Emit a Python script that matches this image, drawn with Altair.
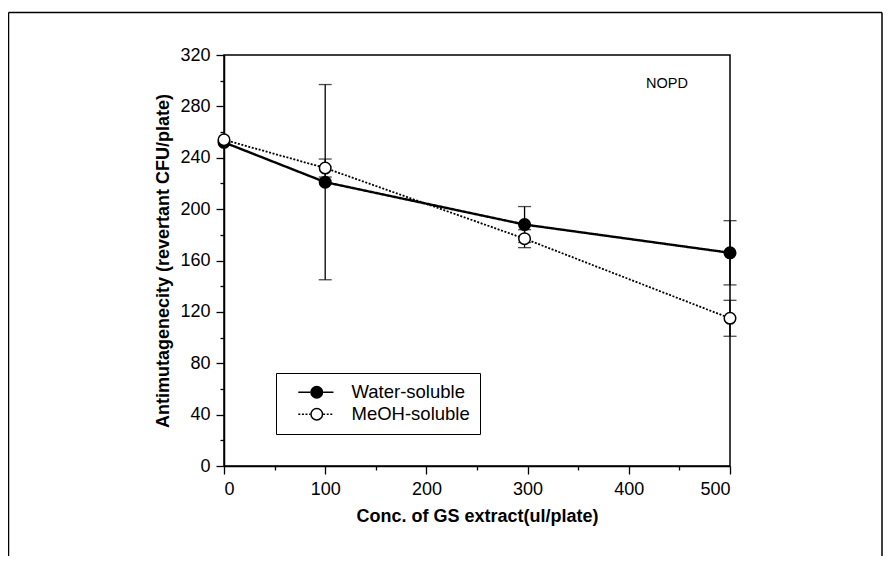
import altair as alt
import pandas as pd

FONT = "Liberation Sans"

# ---- data ----
conc = [0, 100, 297, 500]
water = [252, 221, 188, 166]
water_err = [0, 76, 14, 25]
meoh = [254, 232, 177, 115]
meoh_err = [0, 7, 7, 14]
series_names = ["Water-soluble", "MeOH-soluble"]
x_ticks = [0, 50, 100, 150, 200, 250, 300, 350, 400, 450, 500]
y_ticks = [0, 20, 40, 60, 80, 100, 120, 140, 160, 180, 200, 220, 240, 260, 280, 300, 320]

rows = []
for name, vals, errs in [(series_names[0], water, water_err), (series_names[1], meoh, meoh_err)]:
    for c, v, e in zip(conc, vals, errs):
        rows.append({"conc": c, "value": v, "err": e, "series": name,
                     "low": v - e, "high": v + e})
df = pd.DataFrame(rows)
err_df = df[df["err"] > 0]
caps = pd.concat([err_df.assign(cap=err_df["low"]), err_df.assign(cap=err_df["high"])])

common_axis = dict(labelFont=FONT, labelFontSize=18, labelColor="black",
                   titleFont=FONT, titleFontSize=18, titleFontWeight="bold", titleColor="black",
                   domainColor="black", domainWidth=1.5, tickColor="black", tickWidth=1.3,
                   grid=False, labelPadding=6)

x_axis = alt.Axis(values=x_ticks, title="Conc. of GS extract(ul/plate)",
                  labelExpr="datum.value % 100 === 0 ? datum.label : ''",
                  tickSize={"condition": {"test": "datum.value % 100 === 0", "value": 8}, "value": 4},
                  titlePadding=9, **common_axis)
y_axis = alt.Axis(values=y_ticks, title="Antimutagenecity (revertant CFU/plate)",
                  labelExpr="datum.value % 40 === 0 ? datum.label : ''",
                  tickSize={"condition": {"test": "datum.value % 40 === 0", "value": 8}, "value": 4},
                  titlePadding=7, **common_axis)

x_scale = alt.Scale(domain=[0, 500], nice=False)
y_scale = alt.Scale(domain=[0, 320], nice=False)

X = alt.X("conc:Q", scale=x_scale, axis=x_axis)

def Y(field):
    return alt.Y(f"{field}:Q", scale=y_scale, axis=y_axis)

LX, LY = 52, 318
legend_common = dict(orient="none", legendX=LX, legendY=LY, title=None, padding=10,
                     symbolSize=133, labelFont=FONT, labelFontSize=18.5, labelColor="black",
                     rowPadding=3, symbolOffset=21.5, labelOffset=25.5)

lines = alt.Chart(df).mark_line(color="black").encode(
    x=X, y=Y("value"),
    strokeDash=alt.StrokeDash("series:N",
        scale=alt.Scale(domain=series_names, range=[[1, 0], [2, 1.6]]),
        legend=alt.Legend(symbolType="M-3.2,0L-1.1,0M1.1,0L2.9,0", symbolStrokeColor="black",
                          symbolStrokeWidth=1.5, labelOpacity=0, **legend_common)),
    strokeWidth=alt.StrokeWidth("series:N",
        scale=alt.Scale(domain=series_names, range=[2.4, 1.8]), legend=None),
)

bars = alt.Chart(err_df).mark_rule(color="black", strokeWidth=1.3).encode(
    x=X, y=Y("low"), y2="high:Q")

cap_marks = alt.Chart(caps).mark_tick(color="black", orient="horizontal", size=13, thickness=1.3).encode(
    x=X, y=Y("cap"))

points = alt.Chart(df).mark_point(filled=True, size=133, stroke="black", strokeWidth=1.5, opacity=1).encode(
    x=X, y=Y("value"),
    fill=alt.Fill("series:N",
        scale=alt.Scale(domain=series_names, range=["black", "white"]),
        legend=alt.Legend(symbolType="circle", symbolStrokeColor="black", symbolStrokeWidth=1.5,
                          strokeColor="black", **legend_common)),
)

frame_df = pd.DataFrame({"k": [0]})
frame_left = alt.Chart(frame_df).mark_rule(color="black", strokeWidth=1.5).encode(
    x=alt.value(-215.5), y=alt.value(-42.5), y2=alt.value(501))
frame_right = alt.Chart(frame_df).mark_rule(color="black", strokeWidth=1.5).encode(
    x=alt.value(658), y=alt.value(-42.5), y2=alt.value(501))
frame_top = alt.Chart(frame_df).mark_rule(color="black", strokeWidth=1.5).encode(
    x=alt.value(-215.5), x2=alt.value(658), y=alt.value(-42.5))

chart = alt.layer(frame_left, frame_right, frame_top, lines, bars, cap_marks, points).resolve_legend(
    strokeDash="independent", fill="independent"
).properties(
    width=506, height=411,
    background="white",
    title=alt.TitleParams("NOPD", anchor="end", orient="top", frame="group", font=FONT,
                          fontSize=14.5, fontWeight="normal", color="black",
                          baseline="alphabetic", offset=0, dx=-42, dy=91),
    autosize=alt.AutoSizeParams(type="none"),
    padding={"left": 216, "top": 47, "right": 153, "bottom": 90},
).configure_view(stroke="black", strokeWidth=1.5)

chart.save("out.html", embed_options={"renderer": "svg", "actions": False})
